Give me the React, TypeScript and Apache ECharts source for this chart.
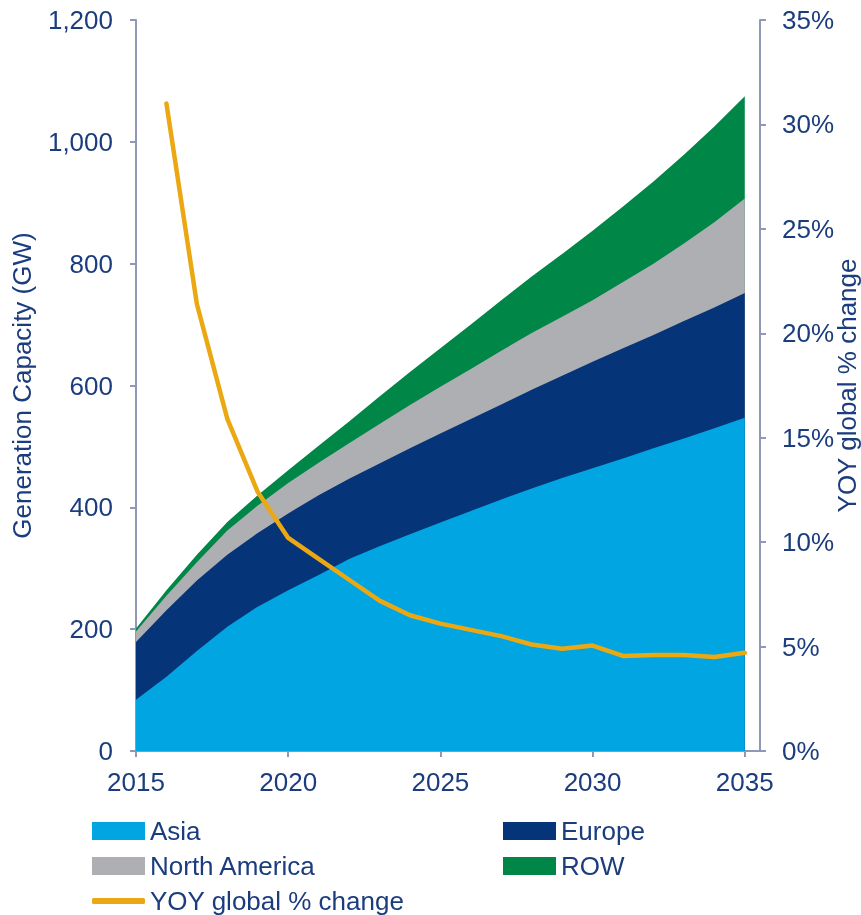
import { useEffect, useRef } from "react";
import * as echarts from "echarts";

const years = [2015, 2016, 2017, 2018, 2019, 2020, 2021, 2022, 2023, 2024, 2025, 2026, 2027, 2028, 2029, 2030, 2031, 2032, 2033, 2034, 2035];
const asia = [84, 122, 164, 204, 237, 264, 289, 315, 336, 356, 375, 394, 413, 431, 448, 464, 480, 497, 513, 530, 547];
const europe = [95, 109, 116, 118, 121, 126, 131, 132, 136, 141, 146, 151, 156, 162, 168, 175, 181, 186, 193, 198, 205];
const northAmerica = [17, 24, 30, 40, 45, 50, 53, 58, 65, 71, 77, 82, 88, 93, 97, 101, 109, 117, 127, 140, 155];
const rowValues = [5, 9, 12, 14, 17, 21, 28, 36, 45, 54, 63, 73, 83, 93, 103, 114, 124, 135, 146, 157, 168];
const yoyYears = [2016, 2017, 2018, 2019, 2020, 2021, 2022, 2023, 2024, 2025, 2026, 2027, 2028, 2029, 2030, 2031, 2032, 2033, 2034, 2035];
const yoy = [31.0, 21.4, 15.9, 12.4, 10.2, 9.2, 8.2, 7.2, 6.5, 6.1, 5.8, 5.5, 5.1, 4.9, 5.05, 4.55, 4.6, 4.6, 4.5, 4.7];
const xTickYears = [2015, 2020, 2025, 2030, 2035];

const NAVY_TEXT = "#1b3d7e";
const AXIS = "#8f98b6";
const FONT = "'Liberation Sans', Arial, sans-serif";
const FS = 26;

export default function App() {
  const ref = useRef<HTMLDivElement>(null);
  useEffect(() => {
    if (!ref.current) return;
    const chart = echarts.init(ref.current, undefined, { renderer: "svg" });

    // Stacked tops (a value x-axis cannot stack by value in ECharts, so the stack is built here)
    const layers = [asia, europe, northAmerica, rowValues];
    const tops: number[][] = [];
    layers.forEach((layer, li) => {
      tops.push(layer.map((v, i) => v + (li > 0 ? tops[li - 1][i] : 0)));
    });
    const names = ["Asia", "Europe", "North America", "ROW"];
    const colors = ["#00a5e1", "#063478", "#aeafb2", "#008646"];

    const areaSeries = names
      .map((name, li) => ({
        name,
        type: "line",
        data: years.map((y, i) => [y, tops[li][i]]),
        symbol: "none",
        lineStyle: { width: 0 },
        itemStyle: { color: colors[li] },
        areaStyle: { color: colors[li], opacity: 1 },
        z: 2,
      }))
      .reverse();

    const legendBase = {
      padding: 0,
      itemWidth: 53,
      itemHeight: 18,
      itemGap: 6,
      icon: "rect",
      textStyle: { fontSize: FS, color: NAVY_TEXT, fontFamily: FONT },
    };
    chart.setOption({
      animation: false,
      textStyle: { fontFamily: FONT },
      grid: { left: 136, right: 101, top: 20, bottom: 164, outerBoundsMode: "none", containLabel: false },
      legend: [
        { ...legendBase, data: ["Asia"], left: 92, top: 818 },
        { ...legendBase, data: ["Europe"], left: 503, top: 818 },
        { ...legendBase, data: ["North America"], left: 92, top: 853 },
        { ...legendBase, data: ["ROW"], left: 503, top: 853 },
        { ...legendBase, data: ["YOY global % change"], left: 92, top: 888, icon: "roundRect", itemHeight: 6 },
      ],
      xAxis: {
        type: "value",
        min: 2015,
        max: 2035.5,
        interval: 5,
        splitLine: { show: false },
        axisLine: { lineStyle: { color: AXIS, width: 2 } },
        axisTick: { show: true, length: 6, lineStyle: { color: AXIS, width: 2 }, customValues: xTickYears },
        axisLabel: {
          fontSize: FS,
          color: NAVY_TEXT,
          fontFamily: FONT,
          margin: 18,
          customValues: xTickYears,
          formatter: (v: number) => (v % 5 === 0 ? String(v) : ""),
        },
      },
      yAxis: [
        {
          type: "value",
          min: 0,
          max: 1200,
          interval: 200,
          name: "Generation Capacity (GW)",
          nameLocation: "middle",
          nameRotate: 90,
          nameGap: 101,
          nameMoveOverlap: false,
          nameTextStyle: { fontSize: FS, color: NAVY_TEXT, fontFamily: FONT },
          splitLine: { show: false },
          axisLine: { show: true, lineStyle: { color: AXIS, width: 2 } },
          axisTick: { show: true, length: 6, lineStyle: { color: AXIS, width: 2 } },
          axisLabel: {
            fontSize: FS,
            color: NAVY_TEXT,
            fontFamily: FONT,
            margin: 23,
            formatter: (v: number) => v.toLocaleString("en-US"),
          },
        },
        {
          type: "value",
          position: "right",
          min: 0,
          max: 35,
          interval: 5,
          name: "YOY global % change",
          nameLocation: "middle",
          nameRotate: 90,
          nameGap: 74,
          nameMoveOverlap: false,
          nameTextStyle: { fontSize: FS, color: NAVY_TEXT, fontFamily: FONT },
          splitLine: { show: false },
          axisLine: { show: true, lineStyle: { color: AXIS, width: 2 } },
          axisTick: { show: true, length: 6, lineStyle: { color: AXIS, width: 2 } },
          axisLabel: {
            fontSize: FS,
            color: NAVY_TEXT,
            fontFamily: FONT,
            margin: 22,
            formatter: (v: number) => `${v}%`,
          },
        },
      ],
      series: [
        ...areaSeries,
        {
          name: "YOY global % change",
          type: "line",
          yAxisIndex: 1,
          data: yoyYears.map((y, i) => [y, yoy[i]]),
          symbol: "none",
          lineStyle: { color: "#eba812", width: 4.5, cap: "round", join: "round" },
          itemStyle: { color: "#eba812" },
          z: 5,
        },
      ],
    });
    return () => chart.dispose();
  }, []);
  return <div ref={ref} style={{ position: "fixed", left: 0, top: 0, width: 861, height: 915 }} />;
}
